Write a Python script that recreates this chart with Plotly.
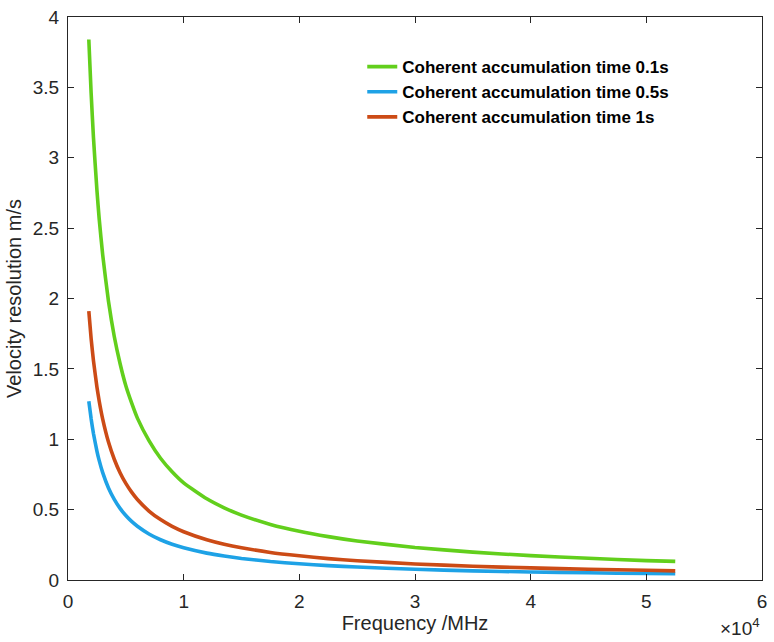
import plotly.graph_objects as go

# Frequency in units of 10^4 MHz
freq = [0.18, 0.2, 0.22, 0.25, 0.27, 0.3, 0.35, 0.4, 0.45, 0.5, 0.55, 0.6, 0.7, 0.8, 0.9,
        1.0, 1.2, 1.35, 1.5, 1.75, 2.0, 2.25, 2.5, 3.0, 3.5, 4.0, 4.5, 5.0, 5.25]
res_01s = [3.84, 3.46, 3.145, 2.77, 2.563, 2.31, 1.98, 1.73, 1.538, 1.38, 1.258, 1.15, 0.99,
           0.865, 0.769, 0.69, 0.577, 0.513, 0.461, 0.395, 0.346, 0.308, 0.277, 0.231,
           0.198, 0.173, 0.154, 0.138, 0.132]
res_05s = [1.27, 1.145, 1.041, 0.916, 0.848, 0.763, 0.654, 0.573, 0.509, 0.458, 0.416, 0.382,
           0.327, 0.286, 0.254, 0.229, 0.191, 0.170, 0.153, 0.131, 0.115, 0.102, 0.092,
           0.076, 0.065, 0.057, 0.051, 0.046, 0.044]
res_1s = [1.91, 1.715, 1.559, 1.372, 1.270, 1.143, 0.98, 0.858, 0.762, 0.686, 0.624, 0.572,
          0.49, 0.429, 0.381, 0.343, 0.286, 0.254, 0.229, 0.196, 0.172, 0.152, 0.137, 0.114,
          0.098, 0.086, 0.076, 0.069, 0.065]

names = ["Coherent accumulation time 0.1s", "Coherent accumulation time 0.5s",
         "Coherent accumulation time 1s"]
colors = ["#62cf1c", "#1ea2e6", "#cc4b16"]
series = [res_01s, res_05s, res_1s]

fig = go.Figure()
for name, col, ys in zip(names, colors, series):
    fig.add_trace(go.Scatter(x=freq, y=ys, mode="lines", name=name,
                             line=dict(color=col, width=3.6, shape="spline", smoothing=0.5)))

font = "Liberation Sans, Arial, sans-serif"
axis_common = dict(showgrid=False, zeroline=False, showline=True, linecolor="#262626",
                   linewidth=1, mirror="ticks", ticks="inside", ticklen=6,
                   tickcolor="#262626", ticklabelstandoff=4, ticklabeloverflow="allow",
                   tickfont=dict(family=font, size=19, color="#262626"))
fig.update_layout(
    width=774, height=642,
    margin=dict(l=68, r=7, t=10, b=62),
    paper_bgcolor="white", plot_bgcolor="white",
    xaxis=dict(range=[0, 6], tickvals=[0, 1, 2, 3, 4, 5, 6],
               title=dict(text="Frequency /MHz", font=dict(family=font, size=20, color="#262626"),
                          standoff=5),
               **axis_common),
    yaxis=dict(range=[0, 4], tickvals=[0, 0.5, 1, 1.5, 2, 2.5, 3, 3.5, 4],
               ticktext=["0", "0.5", "1", "1.5", "2", "2.5", "3", "3.5", "4"],
               title=dict(text="Velocity resolution m/s", font=dict(family=font, size=20, color="#262626"),
                          standoff=5),
               **axis_common),
    legend=dict(x=0.424, y=0.943, xanchor="left", yanchor="top",
                bgcolor="rgba(255,255,255,0)", borderwidth=0,
                font=dict(family=font, size=17, color="black", weight="bold"),
                tracegroupgap=0),
    showlegend=True,
)
fig.add_annotation(xref="paper", yref="paper", x=1.0, y=-0.108, xanchor="right", yanchor="bottom",
                   text="×10<sup>4</sup>", showarrow=False,
                   font=dict(family=font, size=19, color="#262626"))

fig.write_html("out.html")
